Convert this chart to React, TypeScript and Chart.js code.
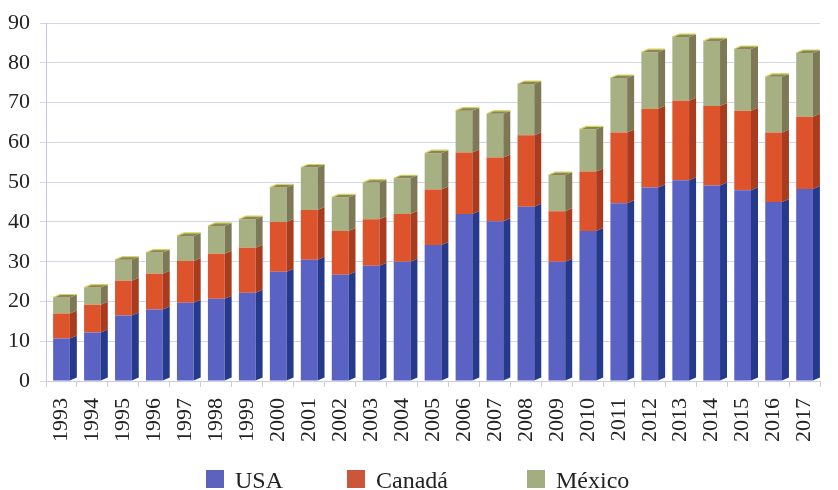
import React, { useEffect, useRef } from "react";
import { Chart, registerables } from "chart.js";

Chart.register(...registerables);

const years = [
  "1993", "1994", "1995", "1996", "1997", "1998", "1999", "2000", "2001",
  "2002", "2003", "2004", "2005", "2006", "2007", "2008", "2009", "2010",
  "2011", "2012", "2013", "2014", "2015", "2016", "2017",
];

const usa = [
  10.7, 12.2, 16.5, 18, 19.7, 20.7, 22.2, 27.5, 30.5, 26.7, 29, 30, 34.2,
  42, 40.2, 43.8, 30, 37.7, 44.7, 48.7, 50.5, 49.2, 48, 45, 48.3,
];

const canada = [
  6.3, 7, 8.7, 9, 10.5, 11.3, 11.3, 12.5, 12.5, 11, 11.7, 12, 14, 15.5, 16,
  18, 12.7, 15, 17.8, 19.8, 20, 20, 20, 17.5, 18.2,
];

const mexico = [
  4, 4.3, 5.3, 5.3, 6.3, 7, 7.2, 8.7, 10.7, 8.5, 9.2, 9, 9.1, 10.5, 11,
  12.9, 9.1, 10.6, 13.7, 14.2, 16, 16.3, 15.5, 14, 16,
];

const seriesNames = ["USA", "Canadá", "México"];
const yMin = 0;
const yMax = 90;
const yStep = 10;

const frontColors = ["#5a62c4", "#dc532c", "#a7b082"];
const legendColors = ["#5b63bf", "#cc553a", "#a4ad7f"];
const sideColors = ["#263a8c", "#a93b1e", "#7d7957"];
const topColor = "#8a8659";
const topEdge = "#d8d45a";
const serif = "'Liberation Serif', 'DejaVu Serif', serif";

const bar3d = {
  id: "bar3d",
  afterDatasetsDraw(chart: any) {
    const ctx = chart.ctx;
    const d = 7;
    const dy = 3;
    const n = chart.data.datasets.length;
    ctx.save();
    chart.data.datasets.forEach((_ds: any, di: number) => {
      const meta = chart.getDatasetMeta(di);
      meta.data.forEach((el: any) => {
        const { x, y, base, width } = el.getProps(["x", "y", "base", "width"], true);
        const l = x - width / 2;
        const r = x + width / 2;
        ctx.fillStyle = sideColors[di];
        ctx.beginPath();
        ctx.moveTo(r, y);
        ctx.lineTo(r + d, y - dy);
        ctx.lineTo(r + d, base - dy);
        ctx.lineTo(r, base);
        ctx.closePath();
        ctx.fill();
        if (di === n - 1) {
          ctx.fillStyle = topColor;
          ctx.beginPath();
          ctx.moveTo(l, y);
          ctx.lineTo(l + d, y - dy);
          ctx.lineTo(r + d, y - dy);
          ctx.lineTo(r, y);
          ctx.closePath();
          ctx.fill();
          ctx.strokeStyle = topEdge;
          ctx.lineWidth = 1.2;
          ctx.beginPath();
          ctx.moveTo(l, y);
          ctx.lineTo(l + d, y - dy);
          ctx.lineTo(r + d, y - dy);
          ctx.stroke();
        }
      });
    });
    ctx.restore();
  },
};

export default function App() {
  const canvasRef = useRef<HTMLCanvasElement | null>(null);

  useEffect(() => {
    if (!canvasRef.current) return;
    const chart = new Chart(canvasRef.current, {
      type: "bar",
      data: {
        labels: years,
        datasets: [usa, canada, mexico].map((values, i) => ({
          label: seriesNames[i],
          data: values,
          backgroundColor: frontColors[i],
          borderWidth: 0,
          categoryPercentage: 1,
          barPercentage: 0.54,
        })),
      },
      options: {
        animation: false,
        responsive: false,
        layout: { padding: { top: 21, right: 2, left: 0, bottom: 0 } },
        plugins: {
          legend: { display: false },
          tooltip: { enabled: false },
        },
        scales: {
          x: {
            stacked: true,
            grid: {
              display: true,
              drawOnChartArea: false,
              drawTicks: true,
              tickLength: 6,
              color: "#c9cce9",
            },
            border: { display: true, color: "#c9cce9" },
            ticks: {
              autoSkip: false,
              minRotation: 90,
              maxRotation: 90,
              padding: 11,
              color: "#222",
              font: { family: serif, size: 22 },
            },
            afterFit(scale: any) {
              scale.height = 109;
            },
          },
          y: {
            stacked: true,
            min: yMin,
            max: yMax,
            grid: {
              color: "rgba(165,172,228,0.5)",
              tickLength: 6,
            },
            border: { display: true, color: "#c3c6ea" },
            ticks: {
              stepSize: yStep,
              padding: 10,
              color: "#222",
              font: { family: serif, size: 22 },
            },
            afterFit(scale: any) {
              scale.width = 46;
            },
          },
        },
      },
      plugins: [bar3d],
    });
    return () => chart.destroy();
  }, []);

  const legendLeft = [206, 347, 527];

  return (
    <div
      style={{
        position: "absolute",
        left: 0,
        top: 0,
        width: 838,
        height: 490,
        overflow: "hidden",
        background: "#fff",
      }}
    >
      <canvas ref={canvasRef} width={842} height={490} style={{ display: "block" }} />
      {seriesNames.map((name, i) => (
        <div
          key={name}
          style={{
            position: "absolute",
            left: legendLeft[i],
            top: 466,
            height: 22,
            display: "flex",
            alignItems: "center",
            fontFamily: serif,
            fontSize: 24,
            lineHeight: "22px",
            color: "#222",
            whiteSpace: "nowrap",
          }}
        >
          <span
            style={{
              display: "inline-block",
              width: 18,
              height: 18,
              background: legendColors[i],
              marginRight: 11,
              marginTop: 3,
            }}
          />
          <span style={{ marginTop: 6 }}>{name}</span>
        </div>
      ))}
    </div>
  );
}
